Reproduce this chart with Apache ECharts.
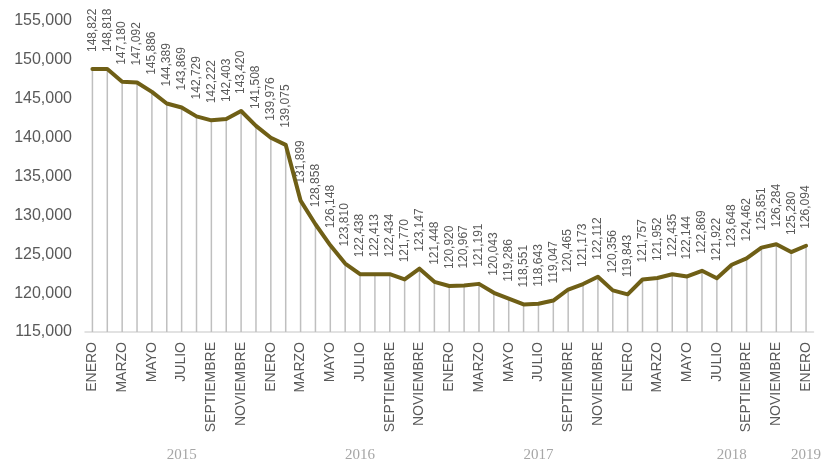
<!DOCTYPE html>
<html>
<head>
<meta charset="utf-8">
<script src="https://cdn.jsdelivr.net/npm/echarts@6/dist/echarts.min.js"></script>
<style>html,body{margin:0;padding:0;background:#fff}#c{width:824px;height:464px}</style>
</head>
<body>
<div id="c"></div>
<script>
var months = ['ENERO','FEBRERO','MARZO','ABRIL','MAYO','JUNIO','JULIO','AGOSTO','SEPTIEMBRE','OCTUBRE','NOVIEMBRE','DICIEMBRE'];
var years = ['2015','2016','2017','2018','2019'];
var yearLabelIndex = {6:'2015', 18:'2016', 30:'2017', 43:'2018', 48:'2019'};
var values = [
  148822,148818,147180,147092,145886,144389,143869,142729,142222,142403,143420,141508,
  139976,139075,131899,128858,126148,123810,122438,122413,122434,121770,123147,121448,
  120920,120967,121191,120043,119286,118551,118643,119047,120465,121173,122112,120356,
  119843,121757,121952,122435,122144,122869,121922,123648,124462,125851,126284,125280,
  126094
];
var yTicks = {min:115000, max:155000, interval:5000};

var categories = [];
for (var i = 0; i < values.length; i++) categories.push(months[i % 12]);

function fmt(v){ return String(v).replace(/\B(?=(\d{3})+(?!\d))/g, ','); }

var chart = echarts.init(document.getElementById('c'));
chart.setOption({
  animation: false,
  grid: {left: 85, right: 5, top: 21, bottom: 132},
  xAxis: [{
    type: 'category', data: categories, boundaryGap: true,
    axisLine: {lineStyle: {color: '#d9d9d9', width: 1.5}},
    axisTick: {show: false},
    axisLabel: {interval: 1, rotate: 90, color: '#595959', fontSize: 14, fontFamily: 'Liberation Sans, Arial', margin: 10}
  }, {
    type: 'category', data: categories, boundaryGap: true, position: 'bottom',
    axisLine: {show: false}, axisTick: {show: false},
    axisLabel: {interval: 0, color: '#a6a6a6', fontSize: 15, fontFamily: 'Liberation Serif, Times New Roman', margin: 116,
      formatter: function(v, idx){ return yearLabelIndex[idx] || ''; }}
  }],
  yAxis: {
    type: 'value', min: yTicks.min, max: yTicks.max, interval: yTicks.interval,
    axisLine: {show: false}, axisTick: {show: false}, splitLine: {show: false},
    axisLabel: {color: '#595959', fontSize: 16, fontFamily: 'Liberation Sans, Arial', margin: 13, formatter: fmt}
  },
  series: [{
    type: 'bar', data: values, barWidth: 1.5, silent: true,
    itemStyle: {color: '#bfbfbf'}, z: 1,
    label: {show: true, position: 'top', rotate: 90, align: 'left', verticalAlign: 'middle', distance: 17,
      color: '#595959', fontSize: 12, fontFamily: 'Liberation Sans, Arial',
      formatter: function(p){ return fmt(p.value); }}
  }, {
    type: 'line', data: values, symbol: 'none', z: 3,
    lineStyle: {color: '#6f5f16', width: 4, join: 'round', cap: 'round'}
  }]
});
</script>
</body>
</html>
